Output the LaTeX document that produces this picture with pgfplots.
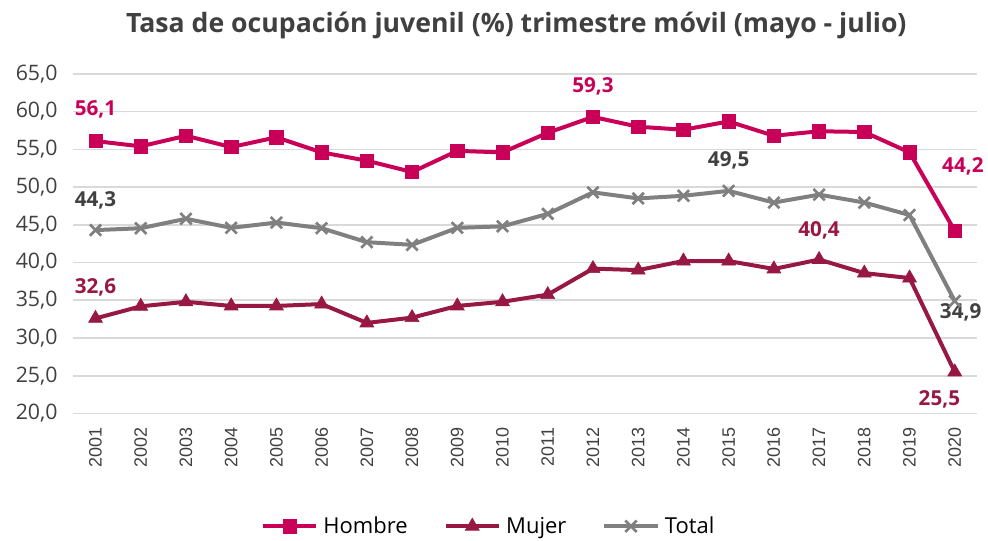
\documentclass[border=0pt]{standalone}
\usepackage{pgfplots}
\pgfplotsset{compat=1.18}
\usepackage{fontspec}
\setmainfont{Open Sans}
\newfontfamily\arialf{Liberation Sans}
\definecolor{hombre}{RGB}{200,0,88}
\definecolor{mujer}{RGB}{152,24,68}
\definecolor{total}{RGB}{128,128,128}
\definecolor{totlab}{RGB}{64,64,64}
\definecolor{txt}{RGB}{64,64,64}
\definecolor{gridc}{RGB}{217,217,217}
\begin{document}
\begin{tikzpicture}
\begin{axis}[
  at={(0,0)}, anchor=south west,
  scale only axis, width=679.2pt, height=255pt,
  xmin=2000.5, xmax=2020.5, ymin=20, ymax=65,
  xtick={2001,...,2020},
  xticklabels={2001,2002,2003,2004,2005,2006,2007,2008,2009,2010,2011,2012,2013,2014,2015,2016,2017,2018,2019,2020},
  xticklabel style={yshift=-7pt, rotate=90, anchor=east, font=\arialf\fontsize{13.5}{15}\selectfont, text=txt},
  ytick={20,25,...,65},
  yticklabel style={xshift=-8pt, font=\fontsize{16}{18}\selectfont, text=txt},
  /pgf/number format/.cd, fixed, fixed zerofill, precision=1, use comma, assume math mode=true,
  /pgfplots/.cd,
  xmajorgrids=false, ymajorgrids=true,
  grid style={draw=gridc, line width=1.2pt},
  axis line style={draw=none},
  axis x line*=bottom,
  x axis line style={draw=gridc, line width=1.2pt},
  axis y line*=left,
  major tick length=0pt,
  tick style={draw=none},
  clip=false,
  legend columns=3,
  legend style={at={(0.46,-0.332)}, anchor=center, draw=none, font=\fontsize{16.5}{18}\selectfont, text=black, column sep=2pt, /tikz/every even column/.append style={column sep=25pt}},
  legend image code/.code={\draw[#1] (0pt,0pt) -- (40pt,0pt); \draw plot[#1, mark repeat=1] coordinates {(20pt,0pt)};},
]
\addplot[hombre, line width=3pt, mark=square*, mark size=5pt, mark options={solid, line width=0.5pt}] coordinates {
(2001,56.1)(2002,55.4)(2003,56.8)(2004,55.3)(2005,56.6)(2006,54.6)(2007,53.5)(2008,52.0)(2009,54.8)(2010,54.6)
(2011,57.2)(2012,59.3)(2013,58.0)(2014,57.6)(2015,58.7)(2016,56.8)(2017,57.4)(2018,57.3)(2019,54.6)(2020,44.2)};
\addlegendentry{Hombre}
\addplot[mujer, line width=3pt, mark=triangle*, mark size=6pt, mark options={solid, line width=0.5pt}] coordinates {
(2001,32.6)(2002,34.2)(2003,34.8)(2004,34.25)(2005,34.25)(2006,34.5)(2007,32.0)(2008,32.7)(2009,34.25)(2010,34.8)
(2011,35.75)(2012,39.2)(2013,39.0)(2014,40.2)(2015,40.2)(2016,39.15)(2017,40.4)(2018,38.6)(2019,37.95)(2020,25.5)};
\addlegendentry{Mujer}
\addplot[total, line width=3pt, mark=x, mark size=6pt, mark options={solid, line width=2pt}] coordinates {
(2001,44.3)(2002,44.55)(2003,45.8)(2004,44.6)(2005,45.3)(2006,44.55)(2007,42.7)(2008,42.35)(2009,44.6)(2010,44.8)
(2011,46.45)(2012,49.3)(2013,48.5)(2014,48.85)(2015,49.5)(2016,47.95)(2017,49.0)(2018,47.95)(2019,46.3)(2020,34.9)};
\addlegendentry{Total}
\begin{scope}[font=\bfseries\fontsize{15.5}{17}\selectfont]
\node[text=hombre] at (axis cs:2001,60.3) {56,1};
\node[text=hombre] at (axis cs:2012,63.4) {59,3};
\node[text=hombre] at (axis cs:2020.18,52.8) {44,2};
\node[text=totlab] at (axis cs:2001,48.3) {44,3};
\node[text=totlab] at (axis cs:2015,53.6) {49,5};
\node[text=totlab] at (axis cs:2020.13,33.4) {34,9};
\node[text=mujer] at (axis cs:2001,36.7) {32,6};
\node[text=mujer] at (axis cs:2017,44.3) {40,4};
\node[text=mujer] at (axis cs:2019.66,21.85) {25,5};
\end{scope}
\end{axis}
\node[font=\bfseries\fontsize{20}{22}\selectfont, text=txt] at (333pt,291pt) {Tasa de ocupación juvenil (\%) trimestre móvil (mayo - julio)};
\path[use as bounding box] (-54.75pt,-94.5pt) rectangle (686.25pt,310.5pt);
\end{tikzpicture}
\end{document}
